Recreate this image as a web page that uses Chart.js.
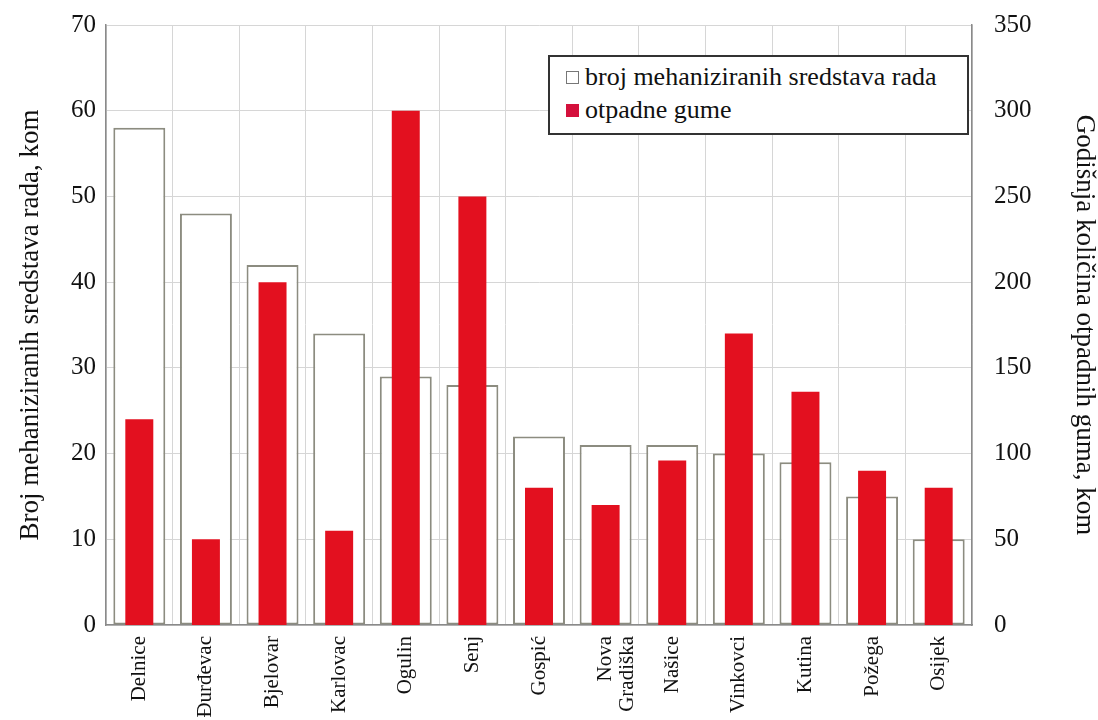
<!DOCTYPE html>
<html>
<head>
<meta charset="utf-8">
<script src="https://cdn.jsdelivr.net/npm/chart.js@4.4.1/dist/chart.umd.min.js"></script>
<style>
  body { margin: 0; background: #fff; }
  #wrap { position: relative; width: 1098px; height: 720px; }
  #legend {
    position: absolute; left: 548px; top: 55px; width: 417px; height: 76px;
    border: 2px solid #333; background: #fff;
    font-family: 'Liberation Serif', serif; font-size: 26px; color: #111;
  }
  #legend .row { position: absolute; left: 16px; display: flex; align-items: center; line-height: 30px; }
  #legend .sw { width: 13px; height: 13px; margin-right: 6px; box-sizing: border-box; }
</style>
</head>
<body>
<div id="wrap">
  <canvas id="chart" width="1098" height="720"></canvas>
  <div id="legend">
    <div class="row" style="top:5px"><span class="sw" style="border:1.5px solid #777;background:#fff"></span>broj mehaniziranih sredstava rada</div>
    <div class="row" style="top:38px"><span class="sw" style="background:#d4103c"></span>otpadne gume</div>
  </div>
</div>
<script>
const towns = ['Delnice', 'Đurđevac', 'Bjelovar', 'Karlovac', 'Ogulin', 'Senj', 'Gospić',
  ['Nova', 'Gradiška'], 'Našice', 'Vinkovci', 'Kutina', 'Požega', 'Osijek'];
const machines = [58, 48, 42, 34, 29, 28, 22, 21, 21, 20, 19, 15, 10];
const tyres = [120, 50, 200, 55, 300, 250, 80, 70, 96, 170, 136, 90, 80];

Chart.defaults.font.family = "'Liberation Serif', serif";
Chart.defaults.font.size = 25;
Chart.defaults.color = '#111';

const gridColor = '#d6d6d6';
const axisColor = '#8a8a8a';

new Chart(document.getElementById('chart').getContext('2d'), {
  type: 'bar',
  data: {
    labels: towns,
    datasets: [
      {
        label: 'otpadne gume',
        data: tyres,
        yAxisID: 'y2',
        backgroundColor: '#e3101f',
        borderWidth: 0,
        barPercentage: 0.42,
        categoryPercentage: 1,
        grouped: false,
        order: 0
      },
      {
        label: 'broj mehaniziranih sredstava rada',
        data: machines,
        yAxisID: 'y',
        backgroundColor: '#ffffff',
        borderColor: '#8c8c80',
        borderWidth: 2,
        borderSkipped: false,
        barPercentage: 0.78,
        categoryPercentage: 1,
        grouped: false,
        order: 1
      }
    ]
  },
  options: {
    responsive: false,
    animation: false,
    layout: { padding: 0 },
    plugins: { legend: { display: false }, tooltip: { enabled: false } },
    scales: {
      x: {
        grid: { color: gridColor, drawTicks: false, offset: true },
        border: { color: axisColor, width: 1.5 },
        ticks: { font: { size: 21, lineHeight: 1.05 }, maxRotation: 90, minRotation: 90, padding: 11, autoSkip: false },
        afterFit: s => { s.height = 95; s.paddingLeft = 0; s.paddingRight = 0; }
      },
      y: {
        position: 'left',
        min: 0, max: 70,
        grid: { color: gridColor, drawTicks: false },
        border: { color: axisColor, width: 1.5 },
        ticks: { stepSize: 10, padding: 10 },
        title: { display: true, text: 'Broj mehaniziranih sredstava rada, kom', font: { size: 27, lineHeight: 1 }, padding: { top: 17 } },
        afterFit: s => { s.width = 106; s.paddingTop = 25; s.paddingBottom = 0; }
      },
      y2: {
        position: 'right',
        min: 0, max: 350,
        grid: { display: false, drawTicks: false },
        border: { color: axisColor, width: 1.5 },
        ticks: { stepSize: 50, padding: 22 },
        title: { display: true, text: 'Godišnja količina otpadnih guma, kom', font: { size: 27, lineHeight: 1 }, padding: { top: 0 } },
        afterFit: s => { s.width = 126; s.paddingTop = 25; s.paddingBottom = 0; }
      }
    }
  }
});
</script>
</body>
</html>
